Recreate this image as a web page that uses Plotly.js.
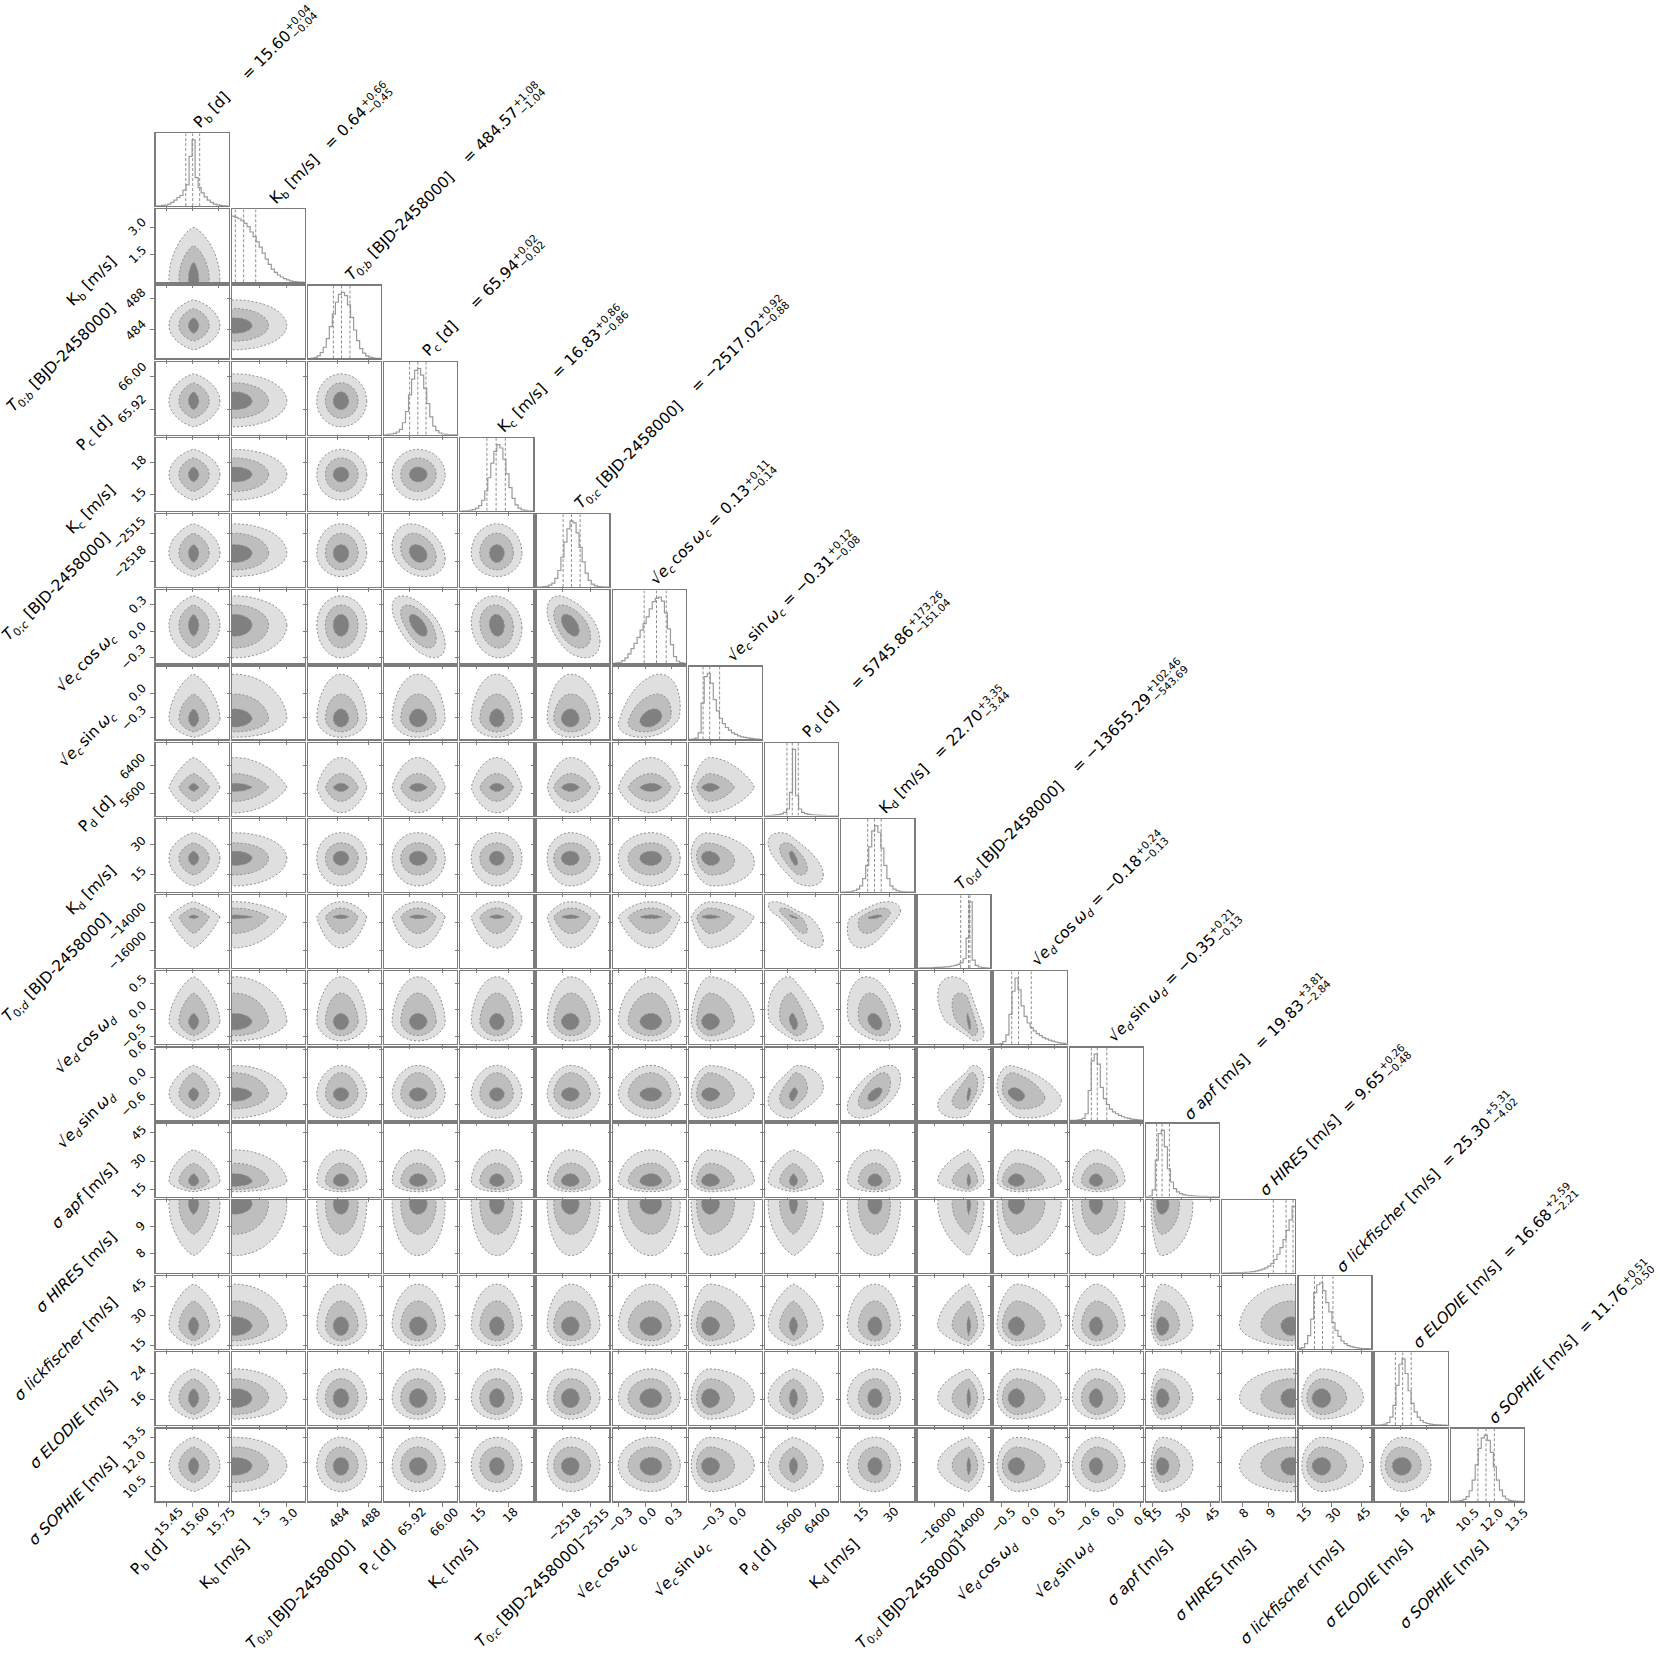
<!DOCTYPE html>
<html>
<head>
<meta charset="utf-8">
<script src="https://cdn.plot.ly/plotly-3.0.1.min.js"></script>
<style>
  body { margin: 0; background: #fff; }
  #corner { width: 1661px; height: 1657px; }
</style>
</head>
<body>
<div id="corner"></div>
<script>
// ---- parameter labels ----
var labels = [
  "P<sub>b</sub> [d]",
  "K<sub>b</sub> [m/s]",
  "<i>T</i><sub>0;<i>b</i></sub> [BJD-2458000]",
  "P<sub>c</sub> [d]",
  "K<sub>c</sub> [m/s]",
  "<i>T</i><sub>0;<i>c</i></sub> [BJD-2458000]",
  "√<i>e</i><sub><i>c</i></sub>\u2009cos\u2009<i>ω</i><sub><i>c</i></sub>",
  "√<i>e</i><sub><i>c</i></sub>\u2009sin\u2009<i>ω</i><sub><i>c</i></sub>",
  "P<sub>d</sub> [d]",
  "K<sub>d</sub> [m/s]",
  "<i>T</i><sub>0;<i>d</i></sub> [BJD-2458000]",
  "√<i>e</i><sub><i>d</i></sub>\u2009cos\u2009<i>ω</i><sub><i>d</i></sub>",
  "√<i>e</i><sub><i>d</i></sub>\u2009sin\u2009<i>ω</i><sub><i>d</i></sub>",
  "<i>σ apf</i> [m/s]",
  "<i>σ HIRES</i> [m/s]",
  "<i>σ lickfischer</i> [m/s]",
  "<i>σ ELODIE</i> [m/s]",
  "<i>σ SOPHIE</i> [m/s]"
];
// spaces between label and "=" in the diagonal titles
var titleGap = [5, 3, 4, 5, 3, 4, 1, 1, 5, 3, 4, 1, 1, 3, 2, 2, 2, 2];

// ---- posterior summaries (median, +err, -err) ----
var medians = [15.60, 0.64, 484.57, 65.94, 16.83, -2517.02, 0.13, -0.31, 5745.86, 22.70,
               -13655.29, -0.18, -0.35, 19.83, 9.65, 25.30, 16.68, 11.76];
var errHi = [0.04, 0.66, 1.08, 0.02, 0.86, 0.92, 0.11, 0.12, 173.26, 3.35,
             102.46, 0.24, 0.21, 3.81, 0.26, 5.31, 2.59, 0.51];
var errLo = [0.04, 0.45, 1.04, 0.02, 0.86, 0.88, 0.14, 0.08, 151.04, 3.44,
             543.69, 0.13, 0.13, 2.84, 0.48, 4.02, 2.21, 0.50];

// ---- axis ranges and ticks ----
var rangeLo = [15.387, 0.0, 480.3, 65.858, 13.5, -2520.7, -0.366, -0.56, 4970, 6.1,
               -17190, -0.65, -0.95, 11.5, 7.26, 13.2, 8.2, 9.6];
var rangeHi = [15.806, 3.97, 489.6, 66.036, 20.3, -2513.0, 0.461, 0.32, 7060, 42.6,
               -12135, 0.73, 0.65, 49.6, 9.99, 50.0, 30.3, 14.08];
var tickVals = [
  [15.45, 15.60, 15.75], [1.5, 3.0], [484, 488], [65.92, 66.00], [15, 18], [-2518, -2515],
  [-0.3, 0.0, 0.3], [-0.3, 0.0], [5600, 6400], [15, 30], [-16000, -14000], [-0.5, 0.0, 0.5],
  [-0.6, 0.0, 0.6], [15, 30, 45], [8, 9], [15, 30, 45], [16, 24], [10.5, 12.0, 13.5]
];
var tickText = [
  ["15.45", "15.60", "15.75"], ["1.5", "3.0"], ["484", "488"], ["65.92", "66.00"], ["15", "18"],
  ["−2518", "−2515"], ["−0.3", "0.0", "0.3"], ["−0.3", "0.0"], ["5600", "6400"], ["15", "30"],
  ["−16000", "−14000"], ["−0.5", "0.0", "0.5"], ["−0.6", "0.0", "0.6"], ["15", "30", "45"],
  ["8", "9"], ["15", "30", "45"], ["16", "24"], ["10.5", "12.0", "13.5"]
];

// ---- 1D histograms (peak = 1, 24 equal bins across each axis range) ----
var hist = [
  [0.005,0.005,0.01,0.015,0.03,0.055,0.09,0.13,0.16,0.24,0.32,0.75,1.0,0.43,0.28,0.2,0.14,0.09,0.055,0.03,0.02,0.01,0.005,0.002],
  [1.0,0.98,0.96,0.93,0.89,0.84,0.76,0.69,0.61,0.53,0.44,0.35,0.27,0.2,0.15,0.11,0.08,0.055,0.035,0.02,0.012,0.007,0.004,0.002],
  [0.0,0.005,0.015,0.04,0.09,0.17,0.3,0.48,0.67,0.85,0.97,1.0,0.95,0.81,0.62,0.43,0.27,0.15,0.08,0.04,0.02,0.008,0.003,0.001],
  [0.0,0.005,0.01,0.02,0.04,0.08,0.18,0.35,0.6,0.84,0.97,1.0,0.9,0.7,0.47,0.27,0.13,0.06,0.025,0.01,0.004,0.002,0.001,0.0],
  [0.0,0.0,0.005,0.01,0.02,0.04,0.08,0.16,0.3,0.5,0.72,0.9,1.0,0.95,0.78,0.56,0.35,0.19,0.09,0.04,0.015,0.006,0.002,0.0],
  [0.0,0.0,0.005,0.01,0.03,0.06,0.13,0.25,0.45,0.68,0.88,1.0,0.97,0.82,0.6,0.38,0.21,0.1,0.045,0.018,0.007,0.003,0.001,0.0],
  [0.0,0.005,0.015,0.04,0.08,0.14,0.22,0.3,0.39,0.5,0.6,0.7,0.82,0.93,0.98,1.0,0.94,0.76,0.52,0.28,0.1,0.03,0.008,0.002],
  [0.0,0.005,0.02,0.1,0.55,0.95,1.0,0.85,0.6,0.43,0.32,0.24,0.18,0.14,0.1,0.075,0.055,0.04,0.03,0.022,0.015,0.01,0.006,0.003],
  [0.0,0.002,0.005,0.01,0.015,0.025,0.05,0.1,0.35,1.0,0.3,0.1,0.05,0.03,0.02,0.013,0.009,0.006,0.004,0.003,0.002,0.001,0.001,0.0],
  [0.0,0.0,0.003,0.008,0.02,0.04,0.09,0.2,0.4,0.68,0.92,1.0,0.9,0.66,0.4,0.2,0.09,0.04,0.018,0.008,0.003,0.001,0.0,0.0],
  [0.0,0.001,0.002,0.003,0.004,0.006,0.008,0.01,0.013,0.017,0.022,0.03,0.04,0.055,0.08,0.14,0.45,1.0,0.12,0.04,0.015,0.006,0.002,0.0],
  [0.0,0.003,0.01,0.04,0.14,0.45,0.8,1.0,0.82,0.58,0.42,0.32,0.25,0.2,0.16,0.13,0.1,0.08,0.06,0.045,0.033,0.024,0.017,0.012],
  [0.0,0.002,0.005,0.01,0.03,0.1,0.45,0.9,1.0,0.85,0.5,0.33,0.24,0.17,0.13,0.1,0.075,0.055,0.04,0.03,0.02,0.014,0.009,0.005],
  [0.0,0.01,0.1,0.55,0.95,1.0,0.75,0.42,0.22,0.12,0.07,0.045,0.03,0.02,0.013,0.009,0.006,0.004,0.003,0.002,0.001,0.001,0.0,0.0],
  [0.0,0.0,0.0,0.001,0.001,0.002,0.003,0.005,0.008,0.012,0.018,0.027,0.04,0.055,0.075,0.1,0.14,0.2,0.28,0.38,0.5,0.64,0.8,1.0],
  [0.01,0.02,0.08,0.2,0.45,0.85,0.97,1.0,0.88,0.7,0.56,0.4,0.28,0.19,0.12,0.08,0.05,0.035,0.025,0.017,0.01,0.007,0.004,0.002],
  [0.0,0.002,0.005,0.015,0.04,0.12,0.3,0.6,0.92,1.0,0.78,0.52,0.33,0.2,0.12,0.07,0.04,0.025,0.015,0.008,0.005,0.003,0.001,0.0],
  [0.0,0.002,0.005,0.012,0.03,0.07,0.16,0.32,0.55,0.8,0.96,1.0,0.92,0.74,0.52,0.32,0.17,0.08,0.035,0.015,0.006,0.002,0.001,0.0]
];

// ---- 2D contour extents (read per parameter: centre, then low/high reach of each level) ----
var modeC   = [15.605, 0.15, 484.5, 65.94, 16.9, -2517.1, 0.07, -0.31, 5780, 23.0, -13650, -0.22, -0.37, 19.5, 9.85, 25.0, 16.4, 11.8];
var lightLo = [15.463, -0.8, 481.4, 65.877, 14.5, -2519.6, -0.305, -0.535, 5050, 9.0, -15800, -0.59, -0.9, 14.0, 7.9, 14.8, 10.0, 10.2];
var lightHi = [15.757, 3.0, 487.8, 66.007, 19.25, -2514.0, 0.40, 0.23, 6640, 35.8, -12580, 0.63, 0.26, 36.0, 10.8, 46.0, 25.3, 13.55];
var midLo   = [15.52, -0.6, 482.5, 65.898, 15.3, -2518.9, -0.194, -0.47, 5380, 14.5, -14800, -0.49, -0.7, 15.2, 8.7, 17.3, 11.4, 10.75];
var midHi   = [15.695, 2.0, 486.7, 65.985, 18.45, -2515.0, 0.297, -0.01, 6180, 30.7, -13020, 0.32, 0.10, 29.0, 10.5, 37.5, 22.3, 12.95];
var darkLo  = [15.575, -0.45, 483.5, 65.919, 16.2, -2518.1, -0.06, -0.41, 5660, 19.3, -13770, -0.38, -0.53, 16.8, 9.45, 20.0, 13.5, 11.2];
var darkHi  = [15.635, 1.1, 485.5, 65.963, 17.6, -2516.2, 0.19, -0.19, 5900, 26.5, -13500, -0.065, -0.23, 23.5, 10.25, 29.5, 19.3, 12.3];
// how peaked each marginal is (1 = round contours, 2 = sharp lens)
var tailPow = [1.5, 1, 1, 1, 1, 1, 1, 1.1, 1.6, 1, 1.7, 1.15, 1.15, 1.1, 1, 1.1, 1, 1];
// [row, col, correlation] for the tilted panels
var corrPairs = [
  [5, 3, -0.25], [6, 3, -0.6], [6, 4, -0.1], [6, 5, -0.5], [7, 6, 0.3],
  [9, 7, -0.15], [9, 8, -0.6], [10, 8, -0.8], [10, 9, 0.5], [11, 8, -0.3],
  [11, 9, -0.3], [11, 10, -0.6], [12, 8, 0.3], [12, 9, 0.55], [12, 10, 0.5], [12, 11, -0.3]
];

// ---- look ----
var W = 1661, H = 1657;
var gridLeft = 155.7, gridTop = 133.3, pitch = 76.19, cell = 72.8;
var frameColor = "#7c7c7c";
var levelFill = ["#dfdfdf", "#bebebe", "#808080"];
var lineGray = "#8e8e8e";
var fontFam = "DejaVu Sans, sans-serif";
var R2 = Math.SQRT1_2;

var nP = labels.length;
var levels = [[lightLo, lightHi], [midLo, midHi], [darkLo, darkHi]];

function fmt(v) { return v.toFixed(2).replace("-", "−"); }
function colDomain(j) { var x0 = gridLeft + j * pitch; return [x0 / W, (x0 + cell) / W]; }
function rowDomain(i) { var t = gridTop + i * pitch; return [1 - (t + cell) / H, 1 - t / H]; }
function getCorr(i, j) {
  for (var k = 0; k < corrPairs.length; k++) {
    if (corrPairs[k][0] === i && corrPairs[k][1] === j) return corrPairs[k][2];
  }
  return 0;
}
function reach(u, p, c, lo, hi) {
  var s = Math.sign(u) * Math.pow(Math.abs(u), p);
  return c + s * (s >= 0 ? hi - c : c - lo);
}

// width of a small pseudo-html string
var measureCtx = document.createElement("canvas").getContext("2d");
function textWidth(html, size) {
  var parts = html.split(/(<[^>]+>)/), italic = 0, script = 0, w = 0;
  parts.forEach(function (p) {
    if (!p) return;
    if (p.charAt(0) === "<") {
      var closing = p.charAt(1) === "/";
      var tag = p.replace(/[<>\/]/g, "");
      if (tag === "i") italic += closing ? -1 : 1;
      if (tag === "sub" || tag === "sup") script += closing ? -1 : 1;
      return;
    }
    var fs = script > 0 ? size * 0.7 : size;
    measureCtx.font = (italic > 0 ? "italic " : "") + fs + "px 'DejaVu Sans'";
    w += measureCtx.measureText(p).width;
  });
  return w;
}

var traces = [];
var layout = {
  width: W, height: H,
  margin: {l: 0, r: 0, t: 0, b: 0},
  paper_bgcolor: "#fff", plot_bgcolor: "#fff",
  showlegend: false,
  font: {family: fontFam, color: "#000"},
  annotations: []
};

var axisN = 0;
var bottomX = [], leftY = [];
for (var i = 0; i < nP; i++) {
  for (var j = 0; j <= i; j++) {
    axisN++;
    var sfx = axisN === 1 ? "" : String(axisN);
    var xa = "x" + sfx, ya = "y" + sfx;
    var diag = (i === j);
    layout["xaxis" + sfx] = {
      domain: colDomain(j), anchor: ya, range: [rangeLo[j], rangeHi[j]],
      tickvals: tickVals[j], showticklabels: false, ticks: "outside", ticklen: 4,
      tickcolor: frameColor, tickwidth: 1, showline: true, mirror: true,
      linecolor: frameColor, linewidth: 1.3, showgrid: false, zeroline: false, fixedrange: true
    };
    layout["yaxis" + sfx] = {
      domain: rowDomain(i), anchor: xa,
      range: diag ? [0, 1.1] : [rangeLo[i], rangeHi[i]],
      tickvals: diag ? [] : tickVals[i], showticklabels: false,
      ticks: diag ? "" : "outside", ticklen: 4, tickcolor: frameColor, tickwidth: 1,
      showline: true, mirror: true, linecolor: frameColor, linewidth: 1.3,
      showgrid: false, zeroline: false, fixedrange: true
    };
    if (i === nP - 1) bottomX[j] = xa;
    if (j === 0 && i > 0) leftY[i] = ya;

    if (diag) {
      // histogram step line
      var h = hist[j], n = h.length, bw = (rangeHi[j] - rangeLo[j]) / n;
      var hx = [], hy = [];
      for (var k = 0; k <= n; k++) {
        hx.push(rangeLo[j] + k * bw);
        hy.push(h[Math.min(k, n - 1)]);
      }
      traces.push({type: "scatter", mode: "lines", x: hx, y: hy, xaxis: xa, yaxis: ya,
        line: {color: "#9a9a9a", width: 1.2, shape: "hv"}, hoverinfo: "skip"});
      // 16/50/84 % quantiles
      var q = [medians[j] - errLo[j], medians[j], medians[j] + errHi[j]];
      traces.push({type: "scatter", mode: "lines",
        x: [q[0], q[0], null, q[1], q[1], null, q[2], q[2]],
        y: [0, 1.1, null, 0, 1.1, null, 0, 1.1],
        xaxis: xa, yaxis: ya, line: {color: lineGray, width: 1, dash: "3px,2px"}, hoverinfo: "skip"});
    } else {
      var rho = getCorr(i, j), sr = Math.sqrt(1 - rho * rho);
      // strongly tilted panels get rounder contours
      var px = 1 + (tailPow[j] - 1) * (1 - Math.abs(rho));
      var py = 1 + (tailPow[i] - 1) * (1 - Math.abs(rho));
      for (var L = 0; L < 3; L++) {
        var cx = [], cy = [];
        for (var k = 0; k <= 96; k++) {
          var t = 2 * Math.PI * k / 96;
          var a = Math.cos(t), b = rho * Math.cos(t) + sr * Math.sin(t);
          cx.push(reach(a, px, modeC[j], levels[L][0][j], levels[L][1][j]));
          cy.push(reach(b, py, modeC[i], levels[L][0][i], levels[L][1][i]));
        }
        traces.push({type: "scatter", mode: "lines", x: cx, y: cy, xaxis: xa, yaxis: ya,
          fill: "toself", fillcolor: levelFill[L],
          line: {color: lineGray, width: 1, dash: "2px,2px"}, hoverinfo: "skip"});
      }
    }
  }
}

var ann = layout.annotations;
// tick labels along the bottom row and left column, placed through the axes
for (var j = 0; j < nP; j++) {
  for (var k = 0; k < tickVals[j].length; k++) {
    ann.push({xref: bottomX[j], x: tickVals[j][k], yref: "paper", y: rowDomain(nP - 1)[0],
      xanchor: "center", yanchor: "top", xshift: 2, yshift: -1, textangle: -45, showarrow: false,
      text: tickText[j][k], font: {size: 12, family: fontFam, color: "#000"}});
  }
}
for (var i = 1; i < nP; i++) {
  for (var k = 0; k < tickVals[i].length; k++) {
    ann.push({xref: "paper", x: colDomain(0)[0], yref: leftY[i], y: tickVals[i][k],
      xanchor: "right", yanchor: "middle", xshift: -4, textangle: -45, showarrow: false,
      text: tickText[i][k], font: {size: 12, family: fontFam, color: "#000"}});
  }
}
// x axis labels under the bottom row
var labelSize = 15.5;
for (var j = 0; j < nP; j++) {
  var cxp = gridLeft + j * pitch + cell / 2 - 43;
  var byp = gridTop + (nP - 1) * pitch + cell + 32;
  ann.push({xref: "paper", yref: "paper", x: cxp / W, y: 1 - byp / H,
    xanchor: "center", yanchor: "top", textangle: -45, showarrow: false,
    text: labels[j], font: {size: labelSize, family: fontFam, color: "#000"}});
}
// y axis labels left of the first column, clear of the page edge
for (var i = 1; i < nP; i++) {
  var widest = 0;
  tickText[i].forEach(function (s) { widest = Math.max(widest, textWidth(s, 12)); });
  var tickLeft = gridLeft - 4 - (widest + 14) * R2;
  var boxW = (textWidth(labels[i], labelSize) + 18) * R2;
  var rightPx = Math.max(Math.min(gridLeft - 32, tickLeft + 2), boxW + 3);
  var ryp = gridTop + i * pitch + cell / 2 + 36;
  ann.push({xref: "paper", yref: "paper", x: rightPx / W, y: 1 - ryp / H,
    xanchor: "right", yanchor: "middle", textangle: -45, showarrow: false,
    text: labels[i], font: {size: labelSize, family: fontFam, color: "#000"}});
}
// diagonal titles: label = value, with the errors stacked after it
var titleSize = 15.5, scriptSize = 10.5;
function rotText(txt, fs, sx, sy) {
  // (sx, sy): start of the baseline in pixels; box corner sits up-left of it
  var k = fs / 16;
  ann.push({xref: "paper", yref: "paper", x: (sx - 10 * k) / W, y: 1 - (sy + 5.5 * k) / H,
    xanchor: "left", yanchor: "bottom", textangle: -45, showarrow: false,
    text: txt, font: {size: fs, family: fontFam, color: "#000"}});
}
for (var j = 0; j < nP; j++) {
  var gap = new Array(titleGap[j] + 1).join("\u00a0");
  var mainTxt = labels[j] + gap + "= " + fmt(medians[j]);
  var sx = gridLeft + j * pitch + cell / 2 + 4.6;
  var sy = gridTop + j * pitch - 3;
  var Lm = textWidth(mainTxt, titleSize) + 1.5;
  var ex = sx + R2 * Lm, ey = sy - R2 * Lm;
  rotText(mainTxt, titleSize, sx, sy);
  rotText("+" + fmt(errHi[j]), scriptSize, ex - R2 * 7, ey - R2 * 7);
  rotText("−" + fmt(errLo[j]), scriptSize, ex + R2 * 3.5, ey + R2 * 3.5);
}

Plotly.newPlot("corner", traces, layout, {staticPlot: true});
</script>
</body>
</html>
